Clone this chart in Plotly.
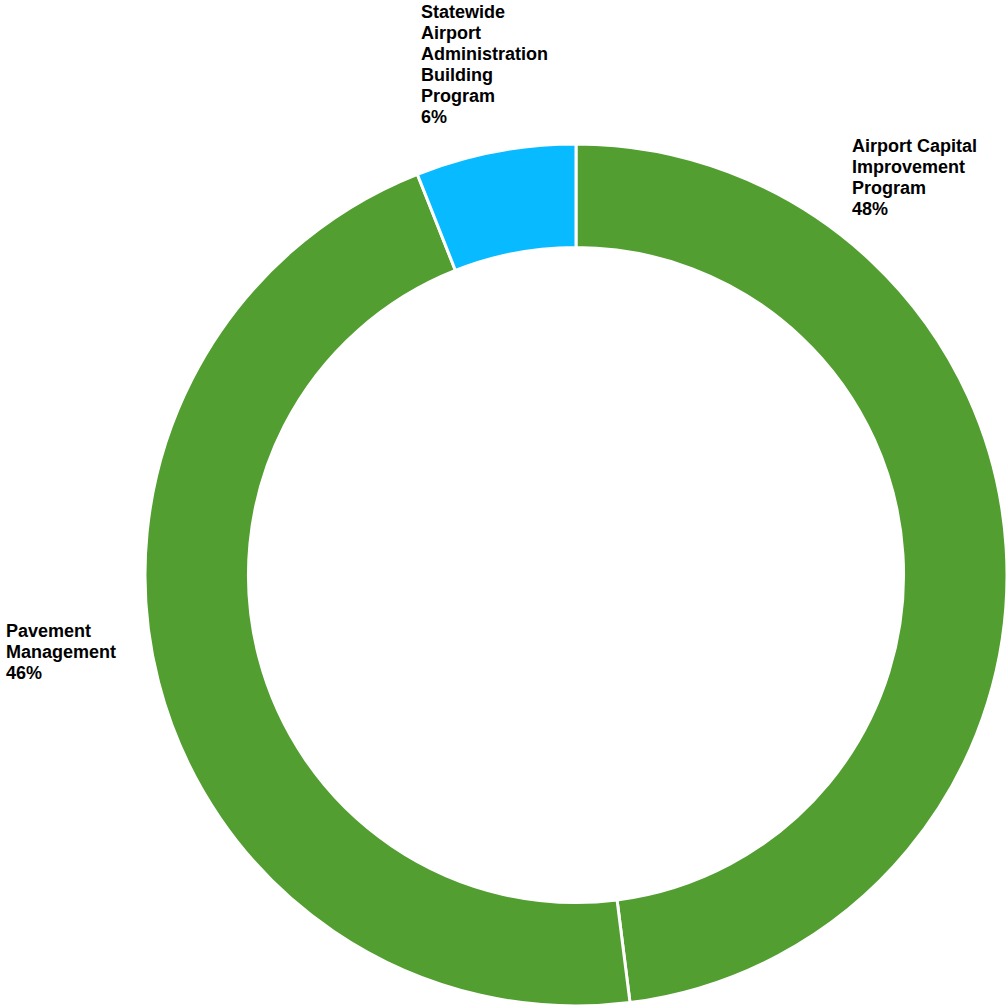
import plotly.graph_objects as go

# Program shares
programs = ["Airport Capital Improvement Program", "Pavement Management",
            "Statewide Airport Administration Building Program"]
shares = [48, 46, 6]
slice_colors = ["#529E31", "#529E31", "#08BAFF"]

# Label lines for each program (the percentage line is appended below)
label_lines = [
    ["Airport Capital", "Improvement", "Program"],
    ["Pavement", "Management"],
    ["Statewide", "Airport", "Administration", "Building", "Program"],
]

W, H = 1007, 1008

fig = go.Figure(go.Pie(
    labels=programs,
    values=shares,
    hole=0.76,
    sort=False,
    direction="clockwise",
    rotation=0,
    textinfo="none",
    marker=dict(colors=slice_colors, line=dict(color="white", width=3)),
    domain=dict(x=[145 / W, 1.0], y=[2 / H, 864 / H]),
    showlegend=False,
))

# Label block positions: left edge and first-line centre (pixels from top-left)
label_px = [(850, 146), (4, 631), (419, 12)]
line_step = 21
total = sum(shares)
for lines, val, (px, py) in zip(label_lines, shares, label_px):
    rows = lines + [f"{round(val / total * 100)}%"]
    for i, row in enumerate(rows):
        fig.add_annotation(
            x=px / W, y=1 - (py + i * line_step) / H, xref="paper", yref="paper",
            xanchor="left", yanchor="middle", align="left", showarrow=False,
            text=f"<b>{row}</b>",
            font=dict(family="Liberation Sans, Arial, sans-serif", size=18, color="black"),
        )

fig.update_layout(
    width=W, height=H,
    margin=dict(l=0, r=0, t=0, b=0),
    paper_bgcolor="white",
    plot_bgcolor="white",
)

fig.write_html("out.html")
